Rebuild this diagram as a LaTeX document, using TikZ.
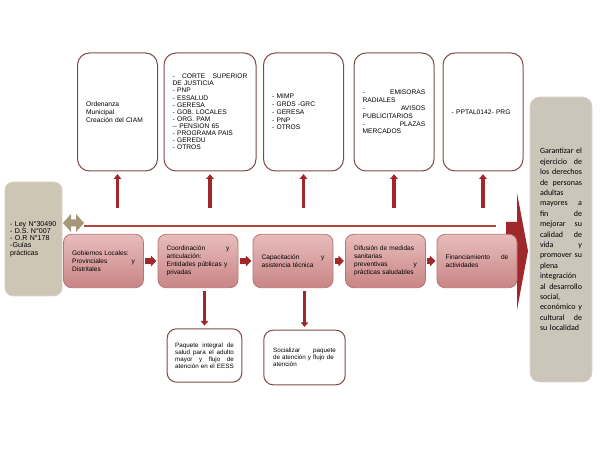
\documentclass[tikz,border=0pt]{standalone}
\usepackage{fontspec}
\setmainfont{Liberation Sans}
\newfontfamily\carlito{Carlito}
\usepackage{tikz}
\usetikzlibrary{arrows.meta}
\definecolor{boxline}{HTML}{7E4B4B}
\definecolor{pinkline}{HTML}{B87474}
\definecolor{pinktop}{HTML}{E8BCBC}
\definecolor{pinkbot}{HTML}{C98585}
\definecolor{arrred}{HTML}{A0282A}
\definecolor{linered}{HTML}{B5443C}
\definecolor{khaki}{HTML}{A5977A}
\definecolor{sand}{HTML}{CEC6B5}
\definecolor{sandline}{HTML}{DDD6C8}
\definecolor{stone}{HTML}{CCC5B9}
\tikzset{
  topbox/.style={draw=boxline,line width=0.75pt,rounded corners=9pt,fill=white,minimum height=88.5pt,inner xsep=6.5pt,align=left,font=\fontsize{5}{5.9}\selectfont},
  stepbox/.style={draw=pinkline,line width=0.6pt,rounded corners=6pt,top color=pinktop,bottom color=pinkbot,minimum height=40pt,text width=47pt,inner xsep=6.5pt,align=left,font=\fontsize{4.9}{6}\selectfont},
  outbox/.style={draw=boxline,line width=0.75pt,rounded corners=7pt,fill=white,align=left,font=\fontsize{4.7}{5.25}\selectfont},
  uparr/.style={draw=arrred,line width=2.4pt,-{Triangle[width=5.5pt,length=3.5pt]}},
  nextarr/.style={draw=arrred,line width=4.5pt,-{Triangle[width=8pt,length=4pt]},shorten <=1pt,shorten >=1pt}
}
\begin{document}
\begin{tikzpicture}[x=0.75pt,y=0.75pt,yscale=-1,xscale=1]
\useasboundingbox (0,0) rectangle (600,463);

%Shape: Big Arrow
\fill[arrred] (506,222) -- (517,222) -- (517,193) -- (528,251) -- (517,310) -- (517,280) -- (506,280) -- cycle ;
%Shape: Double Arrow
\fill[khaki] (63,223) -- (71,214) -- (71,219.5) -- (76,219.5) -- (76,214) -- (84,223) -- (76,232) -- (76,226.5) -- (71,226.5) -- (71,232) -- cycle ;

% Top boxes
\node[topbox,text width=47pt] (ordenanza) at (117.5,112) {Ordenanza\\ Municipal\\ Creación del CIAM};
\node[topbox,text width=56pt,font=\fontsize{5}{5.35}\selectfont] (actores) at (210,112) {-\hfill CORTE\hfill SUPERIOR\\ DE JUSTICIA\\ - PNP\\ - ESSALUD\\ - GERESA\\ - GOB. LOCALES\\ - ORG. PAM\\ -{}- PENSION 65\\ - PROGRAMA PAIS\\ - GEREDU\\ - OTROS};
\node[topbox,text width=47pt] (sectores) at (303.5,112) {- MIMP\\ - GRDS -GRC\\ - GERESA\\ - PNP\\ - OTROS};
\node[topbox,text width=47pt] (medios) at (394,112) {-\hfill EMISORAS\\ RADIALES\\ -\hfill AVISOS\\ PUBLICITARIOS\\ -\hfill PLAZAS\\ MERCADOS};
\node[topbox,text width=47pt] (presup) at (483,112) {- PPTAL0142- PRG};

% Left and right boxes
\node[draw=sandline,fill=sand,rounded corners=6pt,minimum height=85.5pt,text width=35pt,inner xsep=4pt,align=left,font=\fontsize{5.3}{5.4}\selectfont] (normas) at (33.5,239) {- Ley N°30490\\ - D.S. N°007\\ - O.R N°178\\ -Guías\\ prácticas};
\node[draw=stone!70!white,fill=stone,rounded corners=7pt,minimum height=213.75pt,text width=31.5pt,inner xsep=7.5pt,align=left,font=\carlito\fontsize{6}{7.8}\selectfont] (meta) at (561,239.5) {Garantizar\hfill el\\ ejercicio\hfill de\\ los\hfill derechos\\ de\hfill personas\\ adultas\\ mayores\hfill a\\ fin\hfill de\\ mejorar\hfill su\\ calidad\hfill de\\ vida\hfill y\\ promover\hfill su\\ plena\\ integración\\ al\hfill desarrollo\\ social,\\ económico\hfill y\\ cultural\hfill de\\ su localidad};

% Steps
\node[stepbox] (gobiernos) at (103.5,261) {Gobiernos Locales:\\ Provinciales\hfill y\\ Distritales};
\node[stepbox] (coordina) at (198,261) {Coordinación\hfill y\\ articulación:\\ Entidades públicas y\\ privadas};
\node[stepbox] (capacita) at (293,261) {Capacitación\hfill y\\ asistencia técnica};
\node[stepbox] (difusion) at (385.5,261) {Difusión de medidas\\ sanitarias\\ preventivas\hfill y\\ prácticas saludables};
\node[stepbox] (financia) at (477,261) {Financiamiento\hfill de\\ actividades};

% Bottom boxes
\node[outbox,text width=44pt,inner xsep=6pt,minimum height=40pt] (paquete) at (204.5,355.5) {Paquete\hfill integral\hfill de\\ salud\hfill para\hfill el\hfill adulto\\ mayor\hfill y\hfill flujo\hfill de\\ atención en el EESS};
\node[outbox,text width=47pt,inner xsep=7pt,minimum height=41pt] (socializa) at (304.5,357.5) {Socializar\hfill paquete\\ de atención y flujo de\\ atención};

% Connectors
\coordinate (base) at (0,208);
\coordinate (linestart) at (84,226);
\coordinate (lineend) at (496,226);
\draw[linered,line width=1.5pt] (linestart) -- (lineend);
\foreach \b in {ordenanza,actores,sectores,medios,presup}
  \draw[uparr,shorten >=2pt] (\b.south |- base) -- (\b.south);
\draw[nextarr] (gobiernos) -- (coordina);
\draw[nextarr] (coordina) -- (capacita);
\draw[nextarr] (capacita) -- (difusion);
\draw[nextarr] (difusion) -- (financia);
\draw[uparr,shorten <=2pt,shorten >=2pt] (paquete.north |- coordina.south) -- (paquete.north);
\draw[uparr,shorten <=2pt,shorten >=2pt] (socializa.north |- capacita.south) -- (socializa.north);

\end{tikzpicture}
\end{document}
